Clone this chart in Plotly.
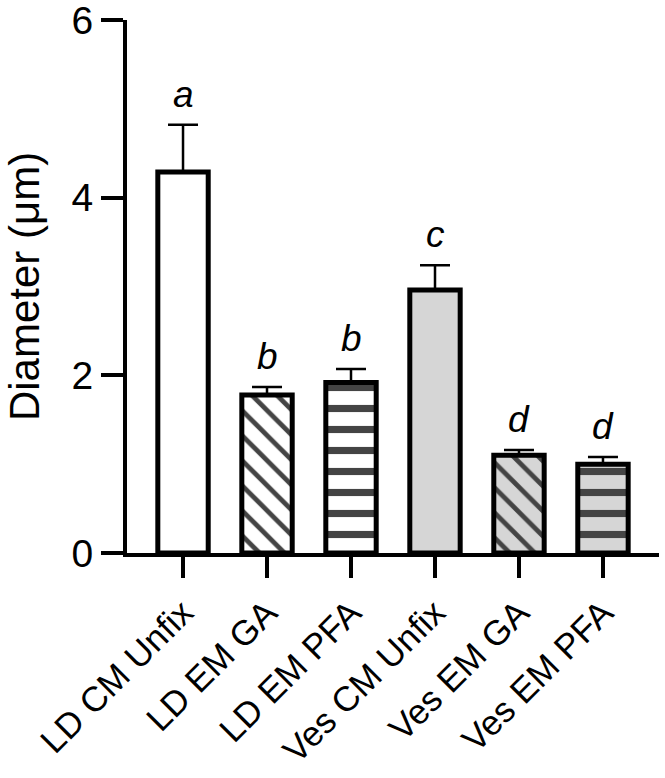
import plotly.graph_objects as go

groups = ["LD CM Unfix", "LD EM GA", "LD EM PFA", "Ves CM Unfix", "Ves EM GA", "Ves EM PFA"]
mean_um = [4.29, 1.78, 1.92, 2.96, 1.10, 1.00]
err_up = [0.53, 0.09, 0.15, 0.28, 0.06, 0.08]
letters = ["a", "b", "b", "c", "d", "d"]

fills = ["white", "white", "white", "#d6d6d6", "#d6d6d6", "#d6d6d6"]
shapes = ["", "\\", "-", "", "\\", "-"]
hatch_col = ["black", "black", "#3d3d3d", "black", "black", "black"]
hatch_size = [10, 17.7, 21, 10, 17.7, 21]
hatch_solid = [0.3, 0.27, 0.34, 0.3, 0.27, 0.34]

FONT = "Arial, Liberation Sans, sans-serif"

fig = go.Figure()

fig.add_trace(go.Bar(
    x=list(range(len(groups))),
    y=mean_um,
    width=0.6,
    marker=dict(
        color=fills,
        line=dict(color="black", width=5),
        pattern=dict(
            shape=shapes,
            fgcolor=hatch_col,
            bgcolor=fills,
            fgopacity=1,
            size=hatch_size,
            solidity=hatch_solid,
        ),
    ),
    error_y=dict(
        type="data",
        symmetric=False,
        array=err_up,
        arrayminus=[0] * len(err_up),
        color="black",
        thickness=2.5,
        width=15,
    ),
    showlegend=False,
    hoverinfo="skip",
))

# significance letters above the error caps
for i, (m, e, lab) in enumerate(zip(mean_um, err_up, letters)):
    fig.add_annotation(
        x=i, y=m + e,
        text="<i>%s</i>" % lab,
        showarrow=False,
        yanchor="bottom",
        yshift=8,
        font=dict(family=FONT, size=37, color="black"),
    )

fig.update_layout(
    width=665,
    height=778,
    margin=dict(l=127, r=6, t=20, b=225),
    plot_bgcolor="white",
    paper_bgcolor="white",
    font=dict(family=FONT, color="black"),
    xaxis=dict(
        range=[-0.667, 5.667],
        automargin=False,
        tickmode="array",
        tickvals=list(range(len(groups))),
        ticktext=groups,
        tickangle=-45,
        tickfont=dict(size=35),
        ticks="outside",
        ticklen=21,
        tickwidth=4,
        tickcolor="black",
        showline=True,
        linewidth=4,
        linecolor="black",
        showgrid=False,
        zeroline=False,
    ),
    yaxis=dict(
        range=[0, 6],
        automargin=False,
        tickvals=[0, 2, 4, 6],
        tickfont=dict(size=39),
        ticklabeloverflow="allow",
        ticks="outside",
        ticklen=22,
        tickwidth=4,
        tickcolor="black",
        showline=True,
        linewidth=4,
        linecolor="black",
        showgrid=False,
        zeroline=False,
        title=dict(text="Diameter (μm)", font=dict(size=42), standoff=20),
    ),
)

# drop the browser's default 8px page margin so the figure sits at 0,0
fig.write_html(
    "out.html",
    config={"displayModeBar": False},
    post_script="document.body.style.margin='0';",
)
